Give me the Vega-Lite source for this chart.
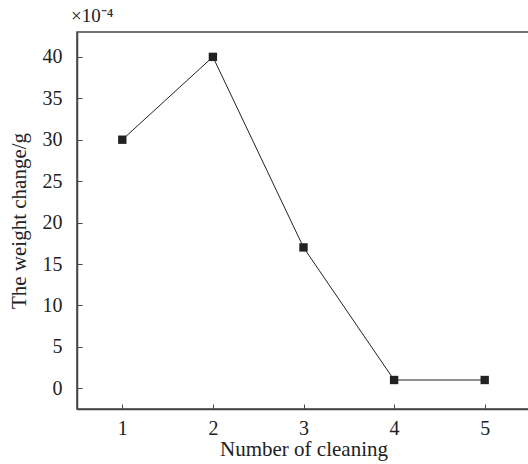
{
  "$schema": "https://vega.github.io/schema/vega-lite/v6.json",
  "autosize": "none",
  "width": 453,
  "height": 377,
  "padding": {"left": 77, "top": 32, "right": 0, "bottom": 55},
  "background": "white",
  "title": {"text": "×10⁻⁴", "anchor": "start", "frame": "group", "dx": -6, "offset": 6, "font": "Times New Roman, Liberation Serif, serif", "fontSize": 19, "fontWeight": "normal", "color": "#222"},
  "config": {
    "view": {"stroke": "#444", "strokeWidth": 1.5},
    "axis": {"grid": false, "domainColor": "#444", "domainWidth": 1.5, "tickColor": "#444", "tickSize": -5, "tickWidth": 1, "labelFont": "Times New Roman, Liberation Serif, serif", "labelFontSize": 20, "labelColor": "#222", "titleFont": "Times New Roman, Liberation Serif, serif", "titleFontSize": 21, "titleFontWeight": "normal", "titleColor": "#222"}
  },
  "data": {"values": [
    {"n": 1, "w": 30},
    {"n": 2, "w": 40},
    {"n": 3, "w": 17},
    {"n": 4, "w": 1},
    {"n": 5, "w": 1}
  ]},
  "encoding": {
    "x": {"field": "n", "type": "quantitative", "scale": {"domain": [0.5, 5.5], "nice": false, "zero": false}, "axis": {"values": [1, 2, 3, 4, 5], "title": "Number of cleaning", "labelPadding": 14, "titlePadding": 0}},
    "y": {"field": "w", "type": "quantitative", "scale": {"domain": [-2.5, 43], "nice": false, "zero": false}, "axis": {"values": [0, 5, 10, 15, 20, 25, 30, 35, 40], "title": "The weight change/g", "titleFontSize": 21, "labelPadding": 20, "titlePadding": 13}}
  },
  "layer": [
    {"mark": {"type": "line", "color": "#222", "strokeWidth": 1}},
    {"mark": {"type": "square", "color": "#222", "filled": true, "opacity": 1, "size": 70}}
  ]
}
